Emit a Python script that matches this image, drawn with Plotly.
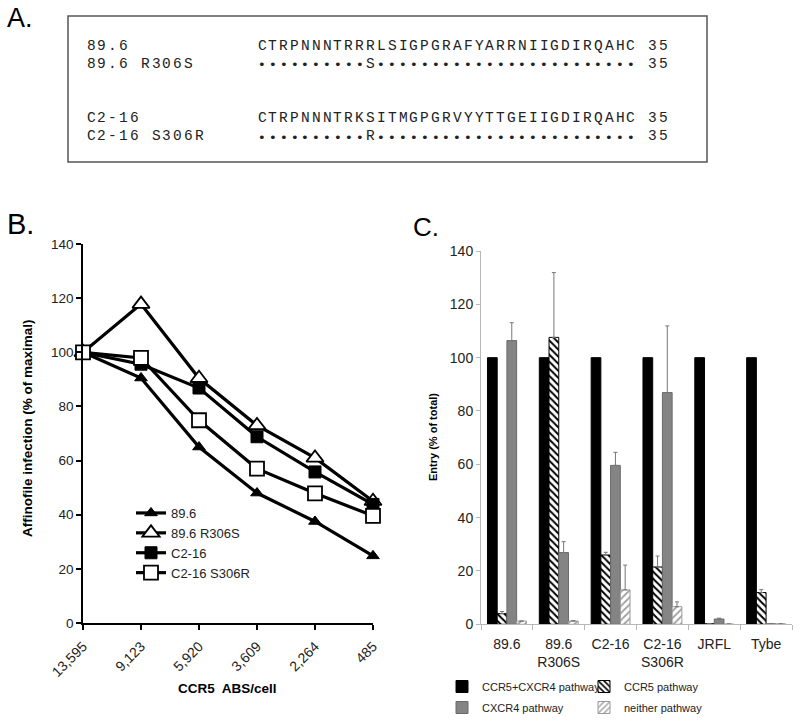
import plotly.graph_objects as go

# ---------------- data ----------------
# Panel A: sequence alignment
seq_names = ["89.6", "89.6 R306S", "C2-16", "C2-16 S306R"]
seq_texts = [
    "CTRPNNNTRRRLSIGPGRAFYARRNIIGDIRQAHC 35",
    "••••••••••S•••••••••••••••••••••••• 35",
    "CTRPNNNTRKSITMGPGRVYYTTGEIIGDIRQAHC 35",
    "••••••••••R•••••••••••••••••••••••• 35",
]

# Panel B: affinofile infection
ccr5_levels = ["13,595", "9,123", "5,920", "3,609", "2,264", "485"]
inf_896 = [100, 90.5, 65, 48, 37.5, 24.8]
inf_896_r306s = [100, 117.8, 90.4, 73, 61, 45]
inf_c216 = [100, 95.6, 86.8, 68.8, 55.8, 43.8]
inf_c216_s306r = [100, 97.9, 74.9, 57, 47.9, 39.6]

# Panel C: entry pathways
viruses = ["89.6", "89.6<br>R306S", "C2-16", "C2-16<br>S306R", "JRFL", "Tybe"]
entry_both = [100, 100, 100, 100, 100, 100]
entry_ccr5 = [4.0, 107.6, 26.0, 21.5, 0.2, 11.9]
entry_ccr5_err = [0.8, 24.3, 1.0, 4.1, 0.0, 1.1]
entry_cxcr4 = [106.4, 26.9, 59.6, 86.9, 2.0, 0.2]
entry_cxcr4_err = [6.7, 4.1, 4.9, 25.0, 0.3, 0.0]
entry_neither = [1.2, 1.2, 12.9, 6.6, 0.1, 0.2]
entry_neither_err = [0.0, 0.2, 9.3, 1.8, 0.0, 0.0]

# ---------------- figure ----------------
W, H = 800, 724
FONT = "Arial, Liberation Sans, sans-serif"
MONO = "Liberation Mono, Courier New, monospace"


def px(x):
    return x / W


def py(y):
    return 1 - y / H


fig = go.Figure()

# Panel B traces
b_series = [
    ("89.6", inf_896, dict(symbol="triangle-up", size=11, color="black",
                           line=dict(color="black", width=1))),
    ("89.6 R306S", inf_896_r306s, dict(symbol="triangle-up", size=15, color="white",
                                        line=dict(color="black", width=1.8))),
    ("C2-16", inf_c216, dict(symbol="square", size=12, color="black",
                             line=dict(color="black", width=1))),
    ("C2-16 S306R", inf_c216_s306r, dict(symbol="square", size=14, color="white",
                                          line=dict(color="black", width=1.8))),
]
for name, vals, mk in b_series:
    fig.add_trace(go.Scatter(
        x=ccr5_levels, y=vals, name=name, mode="lines+markers",
        line=dict(color="black", width=3.2), marker=mk,
        xaxis="x", yaxis="y", legend="legend", cliponaxis=False,
    ))

# Panel C traces (legend split in two rows of two entries)
c_series = [
    ("CCR5+CXCR4 pathway", entry_both, None,
     dict(color="black", line=dict(color="black", width=1)), "legend2"),
    ("CCR5 pathway", entry_ccr5, entry_ccr5_err,
     dict(color="white", line=dict(color="black", width=1),
          pattern=dict(shape="\\", fgcolor="black", bgcolor="white", size=5, solidity=0.4)),
     "legend2"),
    ("CXCR4 pathway", entry_cxcr4, entry_cxcr4_err,
     dict(color="#848484", line=dict(color="#6a6a6a", width=1)), "legend3"),
    ("neither pathway", entry_neither, entry_neither_err,
     dict(color="white", line=dict(color="#9a9a9a", width=1),
          pattern=dict(shape="/", fgcolor="#a0a0a0", bgcolor="white", size=5, solidity=0.35)),
     "legend3"),
]
for name, vals, err, mk, lg in c_series:
    kw = {}
    if err is not None:
        kw["error_y"] = dict(type="data", symmetric=False, array=err,
                             arrayminus=[0] * len(err), color="#777777",
                             thickness=1, width=2)
    fig.add_trace(go.Bar(
        x=viruses, y=vals, name=name, marker=mk,
        xaxis="x2", yaxis="y2", legend=lg, **kw,
    ))

leg_common = dict(bgcolor="rgba(0,0,0,0)", borderwidth=0, itemwidth=30)

fig.update_layout(
    template="none",
    width=W, height=H,
    margin=dict(l=0, r=0, t=0, b=0, autoexpand=False),
    paper_bgcolor="white", plot_bgcolor="white",
    font=dict(family=FONT, color="black"),
    showlegend=True,
    barmode="group", bargap=0.25, bargroupgap=0.0,
    xaxis=dict(
        domain=[px(83), px(373)], anchor="y", type="category", automargin=False,
        range=[0, 5], showline=True, linecolor="black", linewidth=1.5,
        ticks="outside", ticklen=5, tickwidth=1.5, tickcolor="black",
        tickangle=-45, tickfont=dict(size=14, color="#222"), ticklabelstandoff=3,
        showgrid=False, zeroline=False,
    ),
    yaxis=dict(
        domain=[py(623), py(244)], anchor="x", range=[0, 140], dtick=20, automargin=False,
        showline=True, linecolor="black", linewidth=1.5,
        ticks="outside", ticklen=5, tickwidth=1.5, tickcolor="black",
        tickfont=dict(size=13.5, color="#222"),
        showgrid=False, zeroline=False,
    ),
    xaxis2=dict(
        domain=[px(481), px(792)], anchor="y2", type="category", automargin=False,
        showline=True, linecolor="#b8b8b8", linewidth=1, tickangle=0,
        ticks="outside", tickson="boundaries", ticklen=5, tickcolor="#b8b8b8",
        tickfont=dict(size=14, color="#222"), ticklabelstandoff=7,
        showgrid=False, zeroline=False,
    ),
    yaxis2=dict(
        domain=[py(624.3), py(251)], anchor="x2", range=[0, 140], dtick=20, automargin=False,
        showline=True, linecolor="#b8b8b8", linewidth=1,
        ticks="outside", ticklen=4, tickcolor="#b8b8b8",
        tickfont=dict(size=14, color="#222"),
        showgrid=False, zeroline=False,
    ),
    legend=dict(
        x=px(131), y=py(498), xanchor="left", yanchor="top",
        font=dict(size=13, color="#222"), tracegroupgap=0, **leg_common,
    ),
    legend2=dict(
        orientation="h", x=px(442), y=py(672), xanchor="left", yanchor="top",
        font=dict(size=11, color="#222"),
        entrywidth=97, entrywidthmode="pixels", **leg_common,
    ),
    legend3=dict(
        orientation="h", x=px(442), y=py(693), xanchor="left", yanchor="top",
        font=dict(size=11, color="#222"),
        entrywidth=97, entrywidthmode="pixels", **leg_common,
    ),
)

ann = []
# panel letters
ann.append(dict(text="A.", x=px(5), y=py(18), xanchor="left", yanchor="middle",
                font=dict(size=27, family=FONT)))
ann.append(dict(text="B.", x=px(5), y=py(224), xanchor="left", yanchor="middle",
                font=dict(size=29, family=FONT)))
ann.append(dict(text="C.", x=px(411), y=py(227), xanchor="left", yanchor="middle",
                font=dict(size=26, family=FONT)))

# axis titles
ann.append(dict(text="<b>Affinofile infection (% of maximal)</b>", x=px(27), y=py(428),
                textangle=-90, xanchor="center", yanchor="middle",
                font=dict(size=13.5, family=FONT)))
ann.append(dict(text="<b>CCR5\u00a0 ABS/cell</b>", x=px(228), y=py(688),
                xanchor="center", yanchor="middle", font=dict(size=13.5, family=FONT)))
ann.append(dict(text="<b>Entry (% of total)</b>", x=px(433), y=py(437),
                textangle=-90, xanchor="center", yanchor="middle",
                font=dict(size=11, family=FONT)))

# panel A alignment text, laid out character by character
pitch = 10.85
row_y = [46, 64, 118, 136]
for name, seq, yy in zip(seq_names, seq_texts, row_y):
    for i, ch in enumerate(name):
        if ch != " ":
            ann.append(dict(text=ch, x=px(91 + i * pitch), y=py(yy), xanchor="center",
                            yanchor="middle", font=dict(size=14.5, family=MONO, color="#222")))
    for i, ch in enumerate(seq):
        if ch == " ":
            continue
        if ch == "•":
            ann.append(dict(text=ch, x=px(262 + i * pitch), y=py(yy + 1), xanchor="center",
                            yanchor="middle", font=dict(size=13, family="DejaVu Sans", color="#222")))
        else:
            ann.append(dict(text=ch, x=px(262 + i * pitch), y=py(yy), xanchor="center",
                            yanchor="middle", font=dict(size=14.5, family=MONO, color="#222")))

for a in ann:
    a.update(xref="paper", yref="paper", showarrow=False)
fig.update_layout(annotations=ann)

fig.add_shape(type="rect", xref="paper", yref="paper",
              x0=px(68), x1=px(707), y0=py(162), y1=py(16),
              line=dict(color="#555", width=1.5), fillcolor="rgba(0,0,0,0)")

# remove the default 8px page margin so the figure sits at the window's corner
fig.write_html("out.html", config={"displayModeBar": False},
               post_script="document.body.style.margin='0px';")
